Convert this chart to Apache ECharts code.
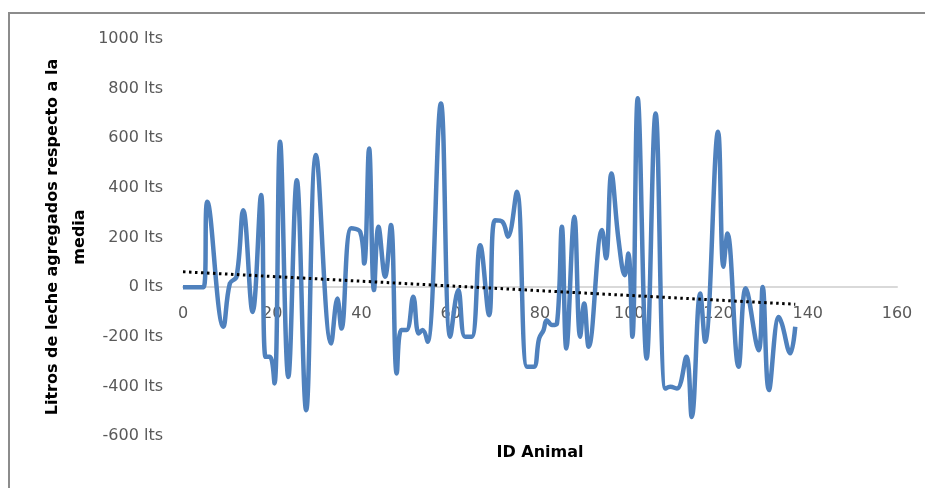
<!DOCTYPE html>
<html>
<head>
<meta charset="utf-8">
<script src="https://cdn.jsdelivr.net/npm/echarts@6/dist/echarts.min.js"></script>
<style>
  html, body { margin: 0; padding: 0; background: #ffffff; }
  #chart { width: 925px; height: 488px; }
</style>
</head>
<body>
<div id="chart"></div>
<script>
// ID Animal positions and litres relative to the mean
const animalIds = [0, 2.3, 4.6, 5.45, 9.05, 10.5, 12.0, 13.5, 15.6, 17.5, 18.5, 19.5, 20.5, 21.75, 23.6, 25.5, 27.6, 29.8, 33.2, 34.6, 35.5, 37.7, 39.7, 40.6, 41.7, 42.8, 43.8, 45.3, 46.6, 47.9, 48.9, 50.1, 51.6, 52.8, 53.7, 54.8, 57.8, 59.9, 61.7, 63.2, 64.7, 66.6, 68.6, 69.9, 71.6, 72.8, 74.8, 77.1, 78.6, 79.8, 80.8, 81.5, 82.7, 83.8, 84.9, 85.9, 87.7, 89.0, 89.9, 90.9, 93.9, 94.8, 96.0, 97.6, 99.0, 99.8, 100.7, 101.9, 103.9, 105.9, 108.1, 109.2, 110.7, 112.8, 114.0, 115.9, 117.0, 119.9, 121.1, 122.0, 124.5, 126.1, 129.0, 129.9, 131.3, 133.5, 134.2, 136.1, 137.2];
const litros = [0, 0, 0, 344, -160, 15, 42, 310, -100, 371, -281, -281, -388, 586, -362, 431, -496, 532, -227, -46, -167, 237, 223, 95, 559, -12, 243, 42, 250, -348, -173, -173, -39, -187, -173, -220, 740, -200, -12, -200, -200, 169, -113, 270, 263, 203, 384, -321, -321, -207, -173, -133, -153, -147, 243, -247, 284, -200, -66, -240, 230, 116, 458, 190, 48, 136, -200, 761, -288, 700, -409, -402, -409, -281, -523, -26, -220, 626, 82, 216, -321, -5, -254, 1, -415, -120, -147, -267, -160];
// Linear trendline endpoints
const trendIds = [0, 137.2];
const trendValues = [62, -69];
// Axis ticks
const xTicks = { min: 0, max: 160, interval: 20 };
const yTicks = { min: -600, max: 1000, interval: 200 };
const yUnit = 'lts';

const mainData = animalIds.map((x, i) => [x, litros[i]]);
const trendData = trendIds.map((x, i) => [x, trendValues[i]]);

const FONT = '"DejaVu Sans", sans-serif';
const GRID = { left: 183, right: 28, top: 39, bottom: 52 };
const plotH = 488 - GRID.top - GRID.bottom;
// position of the value 0 measured up from the bottom of the plot
const zeroOffset = plotH * (0 - yTicks.min) / (yTicks.max - yTicks.min);

const chart = echarts.init(document.getElementById('chart'), null, { renderer: 'canvas' });
chart.setOption({
  backgroundColor: '#ffffff',
  animation: false,
  grid: Object.assign({ containLabel: false }, GRID),
  xAxis: {
    type: 'value',
    position: 'bottom',
    offset: -zeroOffset,
    min: xTicks.min, max: xTicks.max, interval: xTicks.interval,
    axisLine: { show: true, onZero: false, lineStyle: { color: '#d9d9d9', width: 2 } },
    axisTick: { show: false },
    splitLine: { show: false },
    axisLabel: { color: '#595959', fontFamily: FONT, fontSize: 16, margin: 19 }
  },
  yAxis: {
    type: 'value',
    min: yTicks.min, max: yTicks.max, interval: yTicks.interval,
    axisLine: { show: false },
    axisTick: { show: false },
    splitLine: { show: false },
    axisLabel: { color: '#595959', fontFamily: FONT, fontSize: 16, margin: 20,
      formatter: v => v + ' ' + yUnit }
  },
  graphic: [
    { type: 'polyline', silent: true, shape: { points: [[9, 488], [9, 13], [925, 13]] },
      style: { stroke: '#8c8c8c', lineWidth: 2, fill: null } },
    { type: 'text', x: 540, y: 453, silent: true,
      style: { text: 'ID Animal', font: 'bold 16px ' + FONT, fill: '#000000',
        textAlign: 'center', textVerticalAlign: 'middle' } },
    { type: 'text', x: 66, y: 237, rotation: Math.PI / 2, silent: true,
      style: { text: 'Litros de leche agregados respecto a la\nmedia', font: 'bold 16px ' + FONT,
        lineHeight: 27, fill: '#000000', textAlign: 'center', textVerticalAlign: 'middle' } }
  ],
  series: [
    {
      type: 'line', data: mainData, smooth: 0.4, showSymbol: false, symbol: 'none',
      lineStyle: { color: '#4f81bd', width: 4.5 }, z: 2
    },
    {
      type: 'line', data: trendData, showSymbol: false, symbol: 'none',
      lineStyle: { color: '#000000', width: 3, type: [2.5, 3.5] }, z: 3
    }
  ]
});
</script>
</body>
</html>
